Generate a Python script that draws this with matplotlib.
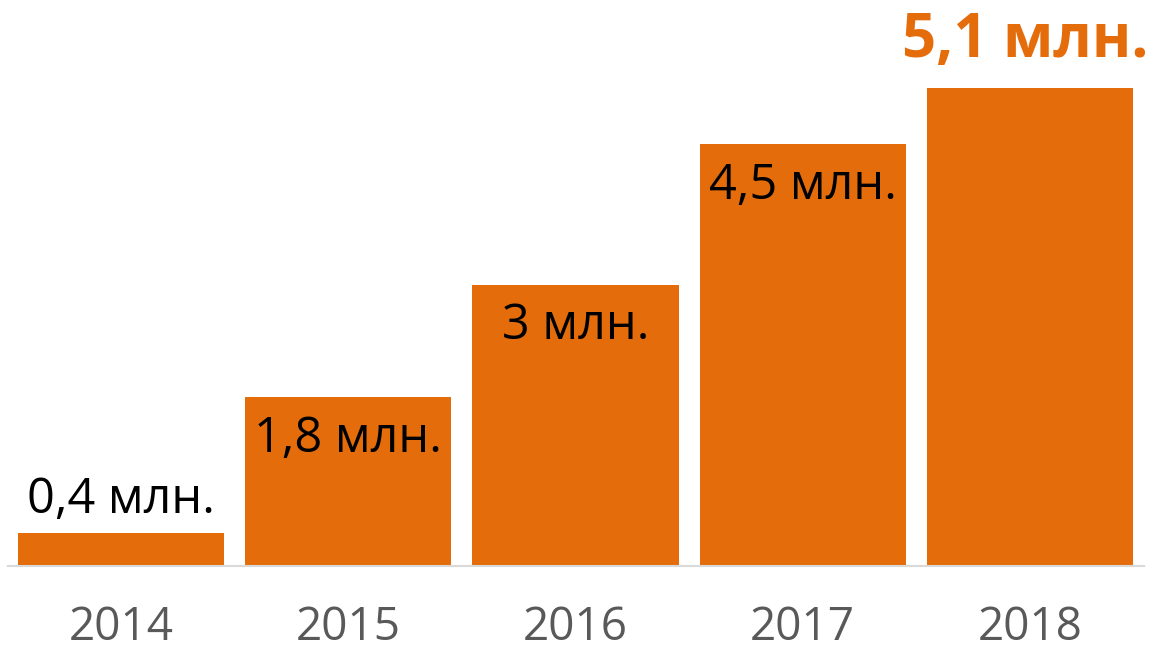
import matplotlib
matplotlib.use("Agg")
import matplotlib.pyplot as plt

plt.rcParams['font.family'] = ['Open Sans', 'DejaVu Sans']

years = ['2014', '2015', '2016', '2017', '2018']
values = [0.35, 1.8, 3.0, 4.5, 5.1]
labels = ['0,4 млн.', '1,8 млн.', '3 млн.', '4,5 млн.', '5,1 млн.']

orange = '#E46C0A'

fig = plt.figure(figsize=(11.58, 6.54), dpi=100)
ax = fig.add_axes([7.5 / 1158, 88 / 654, 1136 / 1158, 566 / 654])

x = list(range(len(years)))
ax.bar(x, values, width=0.907, color=orange, zorder=2)
ax.set_xlim(-0.5, len(years) - 0.5)
ax.set_ylim(0, 566 / 93.8)

# value labels: first above the bar, middle ones inside, last one bold above
for i, (v, lab) in enumerate(zip(values, labels)):
    if i == 0:
        ax.annotate(lab, (i, v), xytext=(0, 33), textcoords='offset pixels',
                    ha='center', va='center', fontsize=35, color='black')
    elif i == len(values) - 1:
        ax.annotate(lab, (i, v), xytext=(-5, 46), textcoords='offset pixels',
                    ha='center', va='center', fontsize=43, color=orange,
                    fontweight='bold')
    else:
        ax.annotate(lab, (i, v), xytext=(0, -42), textcoords='offset pixels',
                    ha='center', va='center', fontsize=35, color='black')

ax.set_xticks(x)
ax.set_xticklabels(years, fontsize=33, color='#595959')
ax.tick_params(axis='x', length=0, pad=28)
ax.set_yticks([])
for s in ['top', 'left', 'right']:
    ax.spines[s].set_visible(False)
ax.spines['bottom'].set_color('#D9D9D9')
ax.spines['bottom'].set_linewidth(1.5)

fig.savefig('out.png', dpi=100)
